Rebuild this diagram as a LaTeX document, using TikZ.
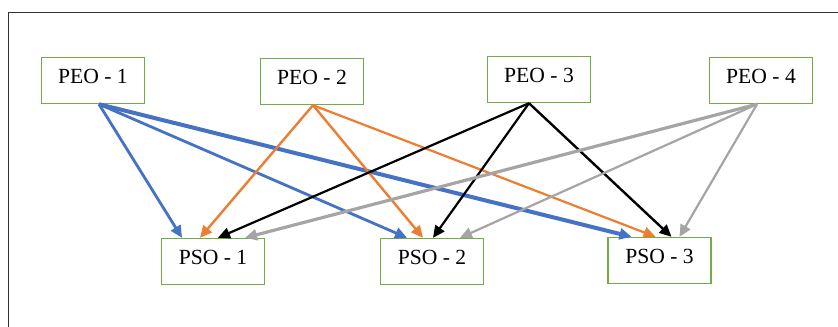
\documentclass[tikz,border=0pt]{standalone}
\usepackage{fontspec}
\setmainfont{Liberation Serif}
\usetikzlibrary{arrows.meta}

\definecolor{boxgreen}{HTML}{70AD47}
\definecolor{peoblue}{HTML}{4472C4}
\definecolor{peoorange}{HTML}{ED7D31}
\definecolor{peogray}{HTML}{A5A5A5}

\tikzstyle{frame} = [draw=black!80, line width=0.8pt]
\tikzstyle{box} = [draw=boxgreen, line width=0.7pt, minimum width=51.5pt, minimum height=23pt, inner sep=0pt, text depth=4pt, font=\fontsize{10.8}{12}\selectfont]
\tikzstyle{arw} = [-{Triangle[length=6pt,width=5.5pt]}]

\begin{document}
\begin{tikzpicture}[x=0.5pt,y=-0.5pt]
\useasboundingbox (0,0) rectangle (838,326);
\draw [frame] (8.5,340) -- (8.5,12.5) -- (850,12.5);

% outcome boxes
\node[box] (peo1) at (93,80.5) {PEO - 1};
\node[box] (peo2) at (312,81.5) {PEO - 2};
\node[box] (peo3) at (539,79.5) {PEO - 3};
\node[box] (peo4) at (761,80.5) {PEO - 4};
\node[box] (pso1) at (213,261.5) {PSO - 1};
\node[box] (pso2) at (432,261.5) {PSO - 2};
\node[box] (pso3) at (659.5,260.5) {PSO - 3};

% PEO - 1
\draw[arw, peoblue, line width=1.4pt] ([xshift=3pt]peo1.south) -- ([xshift=-15.5pt]pso1.north);
\draw[arw, peoblue, line width=1.4pt] ([xshift=3pt]peo1.south) -- ([xshift=-12.5pt]pso2.north);
\draw[arw, peoblue, line width=2pt] ([xshift=3pt]peo1.south) -- ([xshift=-14pt]pso3.north);

% PEO - 2
\draw[arw, peoorange, line width=1.2pt] ([xshift=0.5pt]peo2.south) -- ([xshift=-6.5pt]pso1.north);
\draw[arw, peoorange, line width=1.2pt] ([xshift=0.5pt]peo2.south) -- ([xshift=-4.5pt]pso2.north);
\draw[arw, peoorange, line width=1.1pt] ([xshift=0.5pt]peo2.south) -- ([xshift=-2pt]pso3.north);

% PEO - 3
\draw[arw, black, line width=1.1pt] ([xshift=-5pt]peo3.south) -- ([xshift=2.5pt]pso1.north);
\draw[arw, black, line width=1.1pt] ([xshift=-5pt]peo3.south) -- ([xshift=0.5pt]pso2.north);
\draw[arw, black, line width=1.2pt] ([xshift=-5pt]peo3.south) -- ([xshift=6pt]pso3.north);

% PEO - 4
\draw[arw, peogray, line width=1.6pt] ([xshift=-2pt]peo4.south) -- ([xshift=16pt]pso1.north);
\draw[arw, peogray, line width=1.1pt] ([xshift=-2pt]peo4.south) -- ([xshift=14pt]pso2.north);
\draw[arw, peogray, line width=1.1pt] ([xshift=-2pt]peo4.south) -- ([xshift=10pt]pso3.north);

\end{tikzpicture}
\end{document}
